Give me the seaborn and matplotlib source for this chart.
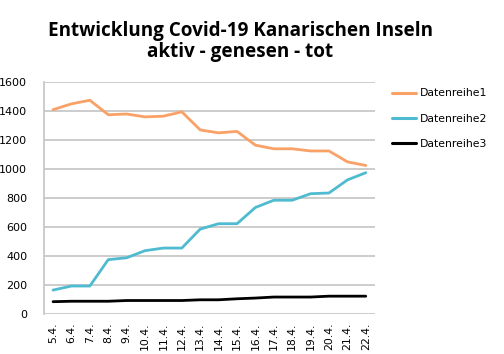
import pandas as pd
import matplotlib.pyplot as plt
import seaborn as sns

# Tage (April)
tage = ['5.4.', '6.4.', '7.4.', '8.4.', '9.4.', '10.4.', '11.4.', '12.4.', '13.4.',
        '14.4.', '15.4.', '16.4.', '17.4.', '18.4.', '19.4.', '20.4.', '21.4.', '22.4.']
aktiv = [1410, 1450, 1475, 1375, 1380, 1360, 1365, 1395, 1270,
         1250, 1260, 1165, 1140, 1140, 1125, 1125, 1050, 1025]
genesen = [165, 193, 193, 375, 388, 437, 455, 455, 586,
           623, 623, 735, 785, 785, 830, 835, 925, 975]
tot = [85, 88, 88, 88, 93, 93, 93, 93, 98,
       98, 105, 110, 117, 117, 117, 123, 123, 123]

serien = ['Datenreihe1', 'Datenreihe2', 'Datenreihe3']
farben = ['#F9A166', '#4FBBD0', '#000000']

df = pd.DataFrame({
    'tag': tage * 3,
    'wert': aktiv + genesen + tot,
    'serie': [serien[0]] * len(tage) + [serien[1]] * len(tage) + [serien[2]] * len(tage),
})

sns.set_style('white')
plt.rcParams['font.family'] = ['DejaVu Sans']
plt.rcParams['text.color'] = 'black'
plt.rcParams['xtick.color'] = 'black'
plt.rcParams['ytick.color'] = 'black'

fig = plt.figure(figsize=(5.04, 3.54), dpi=100)
ax = fig.add_axes([0.087, 0.113, 0.657, 0.655])

sns.lineplot(data=df, x='tag', y='wert', hue='serie', palette=farben,
             linewidth=2, ax=ax, legend=False, sort=False)

ax.set_ylim(0, 1600)
ax.set_yticks(range(0, 1601, 200))
ax.set_xlim(-0.5, len(tage) - 0.5)
ax.set_xticks(range(len(tage)))
ax.set_xticklabels(tage, rotation=90, fontsize=7.8)
ax.tick_params(axis='y', labelsize=8, length=0, pad=12)
ax.tick_params(axis='x', length=0, pad=6)
ax.yaxis.grid(True, color='#C8C8C8', linewidth=1.3)
ax.set_axisbelow(True)
ax.set_xlabel('')
ax.set_ylabel('')
for s in ['top', 'right', 'bottom']:
    ax.spines[s].set_visible(False)
ax.spines['left'].set_color('#C8C8C8')
ax.spines['left'].set_linewidth(1.3)

# Legende
handles = [plt.Line2D([], [], color=c, linewidth=2.2) for c in farben]
fig.legend(handles, serien, loc='upper left', bbox_to_anchor=(0.758, 0.778),
           frameon=False, fontsize=7.8, handlelength=2.2, labelspacing=1.4,
           handletextpad=0.4)

fig.text(0.477, 0.94, 'Entwicklung Covid-19 Kanarischen Inseln\naktiv - genesen - tot',
         ha='center', va='top', fontsize=13.6, fontweight='bold',
         family=['Open Sans', 'DejaVu Sans'], linespacing=1.05)

fig.savefig('out.png', dpi=100)
